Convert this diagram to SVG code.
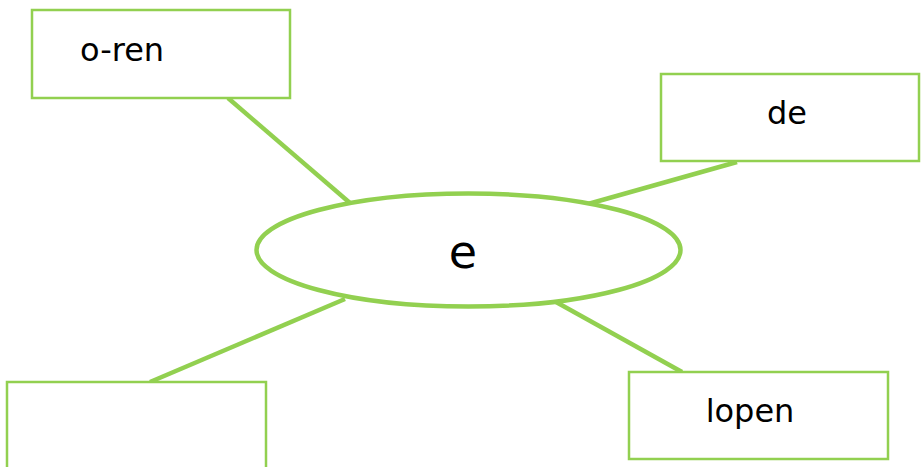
<svg xmlns="http://www.w3.org/2000/svg" width="922" height="467" viewBox="0 0 922 467">
<style>
.box{fill:#fff;stroke:#92D050;stroke-width:2.5}
.con{stroke:#92D050;stroke-width:4.5;fill:none}
.t{font-family:"DejaVu Sans",Verdana,sans-serif;font-size:32px;fill:#000}
</style>
<rect width="922" height="467" fill="#fff"/>
<g id="connectors">
<line class="con" x1="228" y1="98" x2="350" y2="203"/>
<line class="con" x1="737" y1="162" x2="588" y2="204"/>
<line class="con" x1="345" y1="299" x2="150" y2="382"/>
<line class="con" x1="556" y1="302" x2="682" y2="372"/>
</g>
<g id="center">
<ellipse cx="468.5" cy="250" rx="212" ry="56.5" fill="#fff" stroke="#92D050" stroke-width="4.5"/>
<text class="t" x="463" y="268" text-anchor="middle" style="font-size:46px">e</text>
</g>
<g id="n-oren">
<rect class="box" x="32" y="10" width="258" height="88"/>
<text class="t" x="80" y="61">o-ren</text>
</g>
<g id="n-de">
<rect class="box" x="661" y="74" width="258" height="87"/>
<text class="t" x="787" y="124" text-anchor="middle">de</text>
</g>
<g id="n-empty">
<rect class="box" x="7" y="382" width="259" height="100"/>
</g>
<g id="n-lopen">
<rect class="box" x="629" y="372" width="259" height="87"/>
<text class="t" x="750" y="422" text-anchor="middle">lopen</text>
</g>
</svg>
